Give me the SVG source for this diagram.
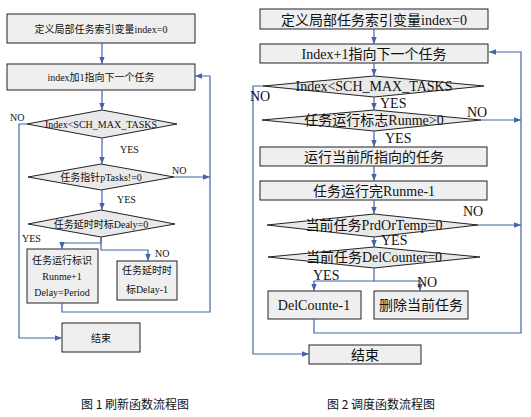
<svg xmlns="http://www.w3.org/2000/svg" width="531" height="417" viewBox="0 0 531 417">
<style>
.box{fill:#efefef;stroke:#222;stroke-width:1}
.dia{fill:#e9e9e9;stroke:#222;stroke-width:1}
.con{fill:none;stroke:#4563a8;stroke-width:1.2}
.t10{font-family:"Liberation Serif","Noto Sans CJK SC",serif;font-size:10px;fill:#111;text-anchor:middle}
.t14{font-family:"Liberation Serif","Noto Sans CJK SC",serif;font-size:14px;fill:#111;text-anchor:middle}
.lbl10{font-family:"Liberation Serif",serif;font-size:10px;fill:#111}
.lbl14{font-family:"Liberation Serif",serif;font-size:14px;fill:#111}
.cap{font-family:"Noto Sans CJK SC",sans-serif;font-size:12px;fill:#111;text-anchor:middle}
</style>
<defs>
<marker id="ah" markerUnits="userSpaceOnUse" markerWidth="7" markerHeight="7" viewBox="0 0 7 7" refX="7" refY="3.5" orient="auto">
<path d="M0,0.8 L7,3.5 L0,6.2 Z" fill="#4563a8"/>
</marker>
</defs>
<rect width="531" height="417" fill="#fff"/>

<!-- Left chart nodes -->
<g id="L1"><rect class="box" x="7" y="14" width="188" height="29"/><text class="t10" x="101" y="33">定义局部任务索引变量index=0</text></g>
<g id="L2"><rect class="box" x="7" y="64" width="188" height="26"/><text class="t10" x="101" y="81">index加1指向下一个任务</text></g>
<g id="L3"><polygon class="dia" points="27,124 102,110 177,124 102,138"/><text class="t10" x="101" y="128">Index&lt;SCH_MAX_TASKS</text></g>
<g id="L4"><polygon class="dia" points="28,177 101,164 174,177 101,190"/><text class="t10" x="101" y="181">任务指针pTasks!=0</text></g>
<g id="L5"><polygon class="dia" points="28,224 101,210 175,224 101,237"/><text class="t10" x="101" y="228">任务延时时标Dealy=0</text></g>
<g id="L6"><rect class="box" x="27" y="249" width="71" height="54"/><text class="t10" x="62" y="264">任务运行标识</text><text class="t10" x="62" y="280">Runme+1</text><text class="t10" x="62" y="296">Delay=Period</text></g>
<g id="L7"><rect class="box" x="117" y="261" width="60" height="39"/><text class="t10" x="147" y="274">任务延时时</text><text class="t10" x="147" y="293">标Delay-1</text></g>
<g id="L8"><rect class="box" x="62" y="323" width="78" height="29"/><text class="t10" x="101" y="342">结束</text></g>

<!-- Right chart nodes -->
<g id="R1"><rect class="box" x="260" y="9" width="228" height="20"/><text class="t14" x="374" y="25">定义局部任务索引变量index=0</text></g>
<g id="R2"><rect class="box" x="260" y="44" width="228" height="19"/><text class="t14" x="374" y="59">Index+1指向下一个任务</text></g>
<g id="R3"><polygon class="dia" points="263,86 374,76 484,86 374,97"/><text class="t14" x="374" y="91">Index&lt;SCH_MAX_TASKS</text></g>
<g id="R4"><polygon class="dia" points="262,120 374,110 481,120 374,131"/><text class="t14" x="374" y="125">任务运行标志Runme&gt;0</text></g>
<g id="R5"><rect class="box" x="260" y="147" width="227" height="19"/><text class="t14" x="374" y="162">运行当前所指向的任务</text></g>
<g id="R6"><rect class="box" x="260" y="181" width="227" height="19"/><text class="t14" x="374" y="196">任务运行完Runme-1</text></g>
<g id="R7"><polygon class="dia" points="267,225 374,214 478,225 374,237"/><text class="t14" x="374" y="230">当前任务PrdOrTemp=0</text></g>
<g id="R8"><polygon class="dia" points="268,257 374,247 480,257 374,268"/><text class="t14" x="374" y="262">当前任务DelCounter=0</text></g>
<g id="R9"><rect class="box" x="268" y="291" width="93" height="28"/><text class="t14" x="314" y="310">DelCounte-1</text></g>
<g id="R10"><rect class="box" x="374" y="291" width="94" height="28"/><text class="t14" x="421" y="310">删除当前任务</text></g>
<g id="R11"><rect class="box" x="309" y="345" width="112" height="19"/><text class="t14" x="365" y="360">结束</text></g>

<!-- Connectors -->
<g id="connectors">
<path class="con" marker-end="url(#ah)" d="M102,43 V64"/>
<path class="con" marker-end="url(#ah)" d="M102,90 V110"/>
<path class="con" marker-end="url(#ah)" d="M27,124 H19 V338 H62"/>
<path class="con" marker-end="url(#ah)" d="M102,138 V164"/>
<path class="con" marker-end="url(#ah)" d="M174,177 H210"/>
<path class="con" marker-end="url(#ah)" d="M102,190 V210"/>
<path class="con" marker-end="url(#ah)" d="M101,237 V243 H62 V249"/>
<path class="con" marker-end="url(#ah)" d="M101,237 V250 H148 V261"/>
<path class="con" marker-end="url(#ah)" d="M62,303 V312 H210 V76 H195"/>

<path class="con" marker-end="url(#ah)" d="M374,29 V44"/>
<path class="con" marker-end="url(#ah)" d="M374,63 V76"/>
<path class="con" marker-end="url(#ah)" d="M263,86 H253 V354 H309"/>
<path class="con" marker-end="url(#ah)" d="M374,97 V110"/>
<path class="con" marker-end="url(#ah)" d="M481,120 H521"/>
<path class="con" marker-end="url(#ah)" d="M374,131 V147"/>
<path class="con" marker-end="url(#ah)" d="M374,166 V181"/>
<path class="con" marker-end="url(#ah)" d="M374,200 V214"/>
<path class="con" marker-end="url(#ah)" d="M478,225 H521"/>
<path class="con" marker-end="url(#ah)" d="M374,237 V247"/>
<path class="con" marker-end="url(#ah)" d="M374,268 V281 H314 V291"/>
<path class="con" marker-end="url(#ah)" d="M374,281 H420 V291"/>
<path class="con" marker-end="url(#ah)" d="M314,319 V333 H521 V52 H489"/>
</g>

<!-- Labels -->
<g id="labels">
<text class="lbl10" x="10" y="121">NO</text>
<text class="lbl10" x="120" y="153">YES</text>
<text class="lbl10" x="172" y="174">NO</text>
<text class="lbl10" x="117" y="203">YES</text>
<text class="lbl10" x="22" y="242">YES</text>
<text class="lbl10" x="155" y="257">NO</text>

<text class="lbl14" x="250" y="101">NO</text>
<text class="lbl14" x="380" y="108">YES</text>
<text class="lbl14" x="467" y="117">NO</text>
<text class="lbl14" x="385" y="143">YES</text>
<text class="lbl14" x="463" y="216">NO</text>
<text class="lbl14" x="381" y="245">YES</text>
<text class="lbl14" x="313" y="280">YES</text>
<text class="lbl14" x="417" y="287">NO</text>
</g>

<text class="cap" x="135" y="409">图 1 刷新函数流程图</text>
<text class="cap" x="381" y="409">图 2 调度函数流程图</text>
</svg>
